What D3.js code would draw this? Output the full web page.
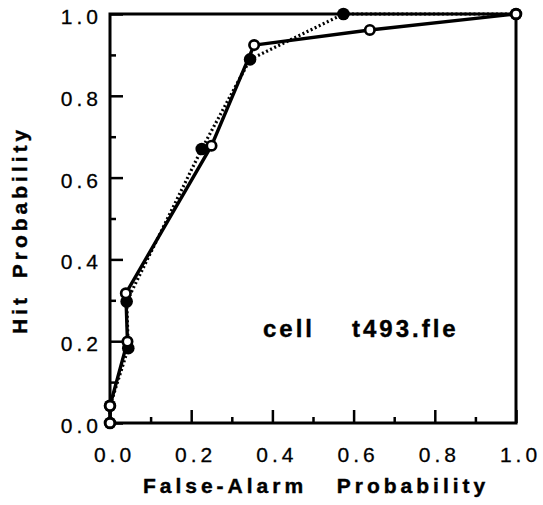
<!DOCTYPE html>
<html>
<head>
<meta charset="utf-8">
<script src="https://cdn.jsdelivr.net/npm/d3@7"></script>
<style>
  html, body { margin: 0; padding: 0; background: #fff; }
  svg { display: block; }
  text { font-family: "Liberation Sans", Arial, Helvetica, sans-serif; fill: #000; }
</style>
</head>
<body>
<svg id="chart" width="543" height="505"></svg>
<script>
// ---- data ----
const openX   = [0.0, 0.0,   0.043, 0.039, 0.250, 0.355, 0.640, 1.0];
const openY   = [0.0, 0.042, 0.199, 0.317, 0.678, 0.924, 0.961, 1.0];
const filledX = [0.0, 0.0,   0.045, 0.041, 0.226, 0.345, 0.575, 1.0];
const filledY = [0.0, 0.042, 0.183, 0.297, 0.670, 0.889, 1.000, 1.0];
const majorTicks = [0.0, 0.2, 0.4, 0.6, 0.8, 1.0];
const minorTicks = [0.1, 0.3, 0.5, 0.7, 0.9];
const xTitleParts = ["False-Alarm", "Probability"];
const yTitleParts = ["Hit", "Probability"];
const annotation = ["cell", "t493.fle"];

// ---- layout ----
const svg = d3.select("#chart");
const x = d3.scaleLinear().domain([0, 1]).range([110, 516]);
const y = d3.scaleLinear().domain([0, 1]).range([423, 14]);
const fmt = d3.format(".1f");

// frame
svg.append("rect")
  .attr("x", x(0)).attr("y", y(1))
  .attr("width", x(1) - x(0)).attr("height", y(0) - y(1))
  .attr("fill", "none").attr("stroke", "#000").attr("stroke-width", 3);

// x axis (ticks point inward)
const gx = svg.append("g").attr("transform", `translate(0,${y(0)})`);
gx.call(d3.axisBottom(x).tickValues(majorTicks).tickSize(-13).tickPadding(24).tickFormat(fmt));
const gxm = svg.append("g").attr("transform", `translate(0,${y(0)})`);
gxm.call(d3.axisBottom(x).tickValues(minorTicks).tickSize(-6).tickFormat(""));

// y axis
const gy = svg.append("g").attr("transform", `translate(${x(0)},0)`);
gy.call(d3.axisLeft(y).tickValues(majorTicks).tickSize(-13).tickPadding(8).tickFormat(fmt));
const gym = svg.append("g").attr("transform", `translate(${x(0)},0)`);
gym.call(d3.axisLeft(y).tickValues(minorTicks).tickSize(-6).tickFormat(""));

[gx, gxm, gy, gym].forEach(g => {
  g.select(".domain").remove();
  g.selectAll(".tick line").attr("stroke", "#000").attr("stroke-width", 2.5);
  g.selectAll(".tick text")
    .style("font-size", "21px")
    .style("letter-spacing", "4px")
    .attr("fill", "#000")
    .attr("stroke", "#000").attr("stroke-width", 0.3);
});
gx.selectAll(".tick text").attr("dx", 4);
gy.selectAll(".tick text").attr("dy", "0.36em").attr("y", 2);

// lines
const filledPts = filledX.map((v, i) => [v, filledY[i]]);
const openPts = openX.map((v, i) => [v, openY[i]]);
const line = d3.line().x(d => x(d[0])).y(d => y(d[1]));

svg.append("path").datum(filledPts)
  .attr("d", line).attr("fill", "none")
  .attr("stroke", "#000").attr("stroke-width", 3.2)
  .attr("stroke-dasharray", "2,2.5");

svg.append("path").datum(openPts)
  .attr("d", line).attr("fill", "none")
  .attr("stroke", "#000").attr("stroke-width", 3.4);

// markers
svg.append("g").selectAll("circle").data(filledPts).join("circle")
  .attr("cx", d => x(d[0])).attr("cy", d => y(d[1]))
  .attr("r", 6.3).attr("fill", "#000");

svg.append("g").selectAll("circle").data(openPts).join("circle")
  .attr("cx", d => x(d[0])).attr("cy", d => y(d[1]))
  .attr("r", 4.7).attr("fill", "#fff")
  .attr("stroke", "#000").attr("stroke-width", 2.7);

// titles
const bold = sel => sel.style("font-weight", "bold").style("font-size", "21px").style("letter-spacing", "4px")
  .attr("stroke", "#000").attr("stroke-width", 0.4);

svg.append("text").text(xTitleParts[0])
  .attr("x", 223 + 2).attr("y", 493).attr("text-anchor", "middle").call(bold);
svg.append("text").text(xTitleParts[1])
  .attr("x", 411 + 2).attr("y", 493).attr("text-anchor", "middle").call(bold);

svg.append("text").text(yTitleParts[1])
  .attr("transform", "translate(27,204) rotate(-90)")
  .attr("dx", 2)
  .attr("text-anchor", "middle").call(bold);
svg.append("text").text(yTitleParts[0])
  .attr("transform", "translate(27,316) rotate(-90)")
  .attr("dx", 2)
  .attr("text-anchor", "middle").call(bold);

// annotation
const ann = sel => sel.style("font-weight", "bold").style("font-size", "24px").style("letter-spacing", "3px")
  .attr("stroke", "#000").attr("stroke-width", 0.4);
svg.append("text").text(annotation[0]).attr("x", 263).attr("y", 337).call(ann);
svg.append("text").text(annotation[1]).attr("x", 352).attr("y", 337).call(ann);
</script>
</body>
</html>
